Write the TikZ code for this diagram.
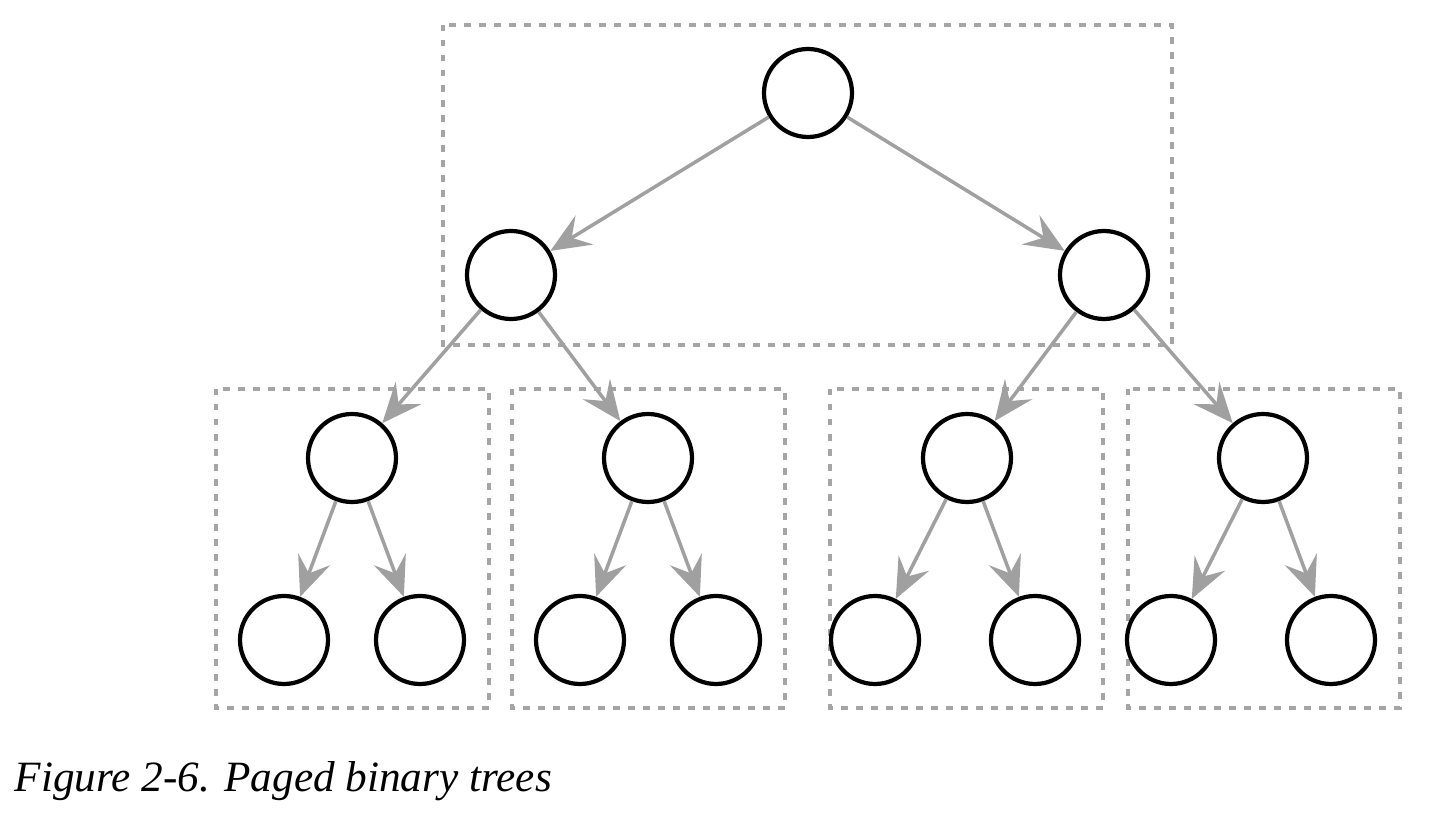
\documentclass[tikz,border=0pt]{standalone}
\usetikzlibrary{arrows.meta}
\usepackage{fontspec}
\setmainfont{Liberation Serif}
\definecolor{edgegray}{RGB}{160,160,160}
\definecolor{boxgray}{RGB}{165,165,165}

\begin{document}
\begin{tikzpicture}[
		treenode/.style={circle,draw=black,line width=1.2pt,fill=white,inner sep=0pt,minimum size=0.88cm},
		treeedge/.style={draw=edgegray,line width=1pt,-{Stealth[length=4mm,width=3.4mm,inset=1.5mm]}},
		pagebox/.style={draw=boxgray,line width=0.95pt,dash pattern=on 0.065cm off 0.085cm}
	]
		\useasboundingbox (0,0) rectangle (14.42,8.22);

		% pages
		\draw[pagebox] (4.43,7.97) rectangle (11.72,4.77);
		\draw[pagebox] (2.16,4.33) rectangle (4.89,1.14);
		\draw[pagebox] (5.12,4.33) rectangle (7.85,1.14);
		\draw[pagebox] (8.30,4.33) rectangle (11.03,1.14);
		\draw[pagebox] (11.28,4.33) rectangle (14.00,1.14);

		\node[treenode] (root) at (8.08,7.29) {};
		\node[treenode] (l) at (5.11,5.47) {};
		\node[treenode] (r) at (11.04,5.47) {};

		\node[treenode] (ll) at (3.52,3.64) {};
		\node[treenode] (lr) at (6.48,3.64) {};
		\node[treenode] (rl) at (9.67,3.64) {};
		\node[treenode] (rr) at (12.63,3.64) {};

		\node[treenode] (lll) at (2.84,1.82) {};
		\node[treenode] (llr) at (4.20,1.82) {};
		\node[treenode] (lrl) at (5.80,1.82) {};
		\node[treenode] (lrr) at (7.16,1.82) {};
		\node[treenode] (rll) at (8.75,1.82) {};
		\node[treenode] (rlr) at (10.35,1.82) {};
		\node[treenode] (rrl) at (11.71,1.82) {};
		\node[treenode] (rrr) at (13.31,1.82) {};

		\draw[treeedge] (root) -- (l);
		\draw[treeedge] (root) -- (r);
		\draw[treeedge] (l) -- (ll);
		\draw[treeedge] (l) -- (lr);
		\draw[treeedge] (r) -- (rl);
		\draw[treeedge] (r) -- (rr);
		\draw[treeedge] (ll) -- (lll);
		\draw[treeedge] (ll) -- (llr);
		\draw[treeedge] (lr) -- (lrl);
		\draw[treeedge] (lr) -- (lrr);
		\draw[treeedge] (rl) -- (rll);
		\draw[treeedge] (rl) -- (rlr);
		\draw[treeedge] (rr) -- (rrl);
		\draw[treeedge] (rr) -- (rrr);

		\node[anchor=base west,inner sep=0pt,font=\fontsize{12.3pt}{15pt}\selectfont\itshape] (caption) at (0.14,0.30) {Figure 2-6. Paged binary trees};
	\end{tikzpicture}
\end{document}
